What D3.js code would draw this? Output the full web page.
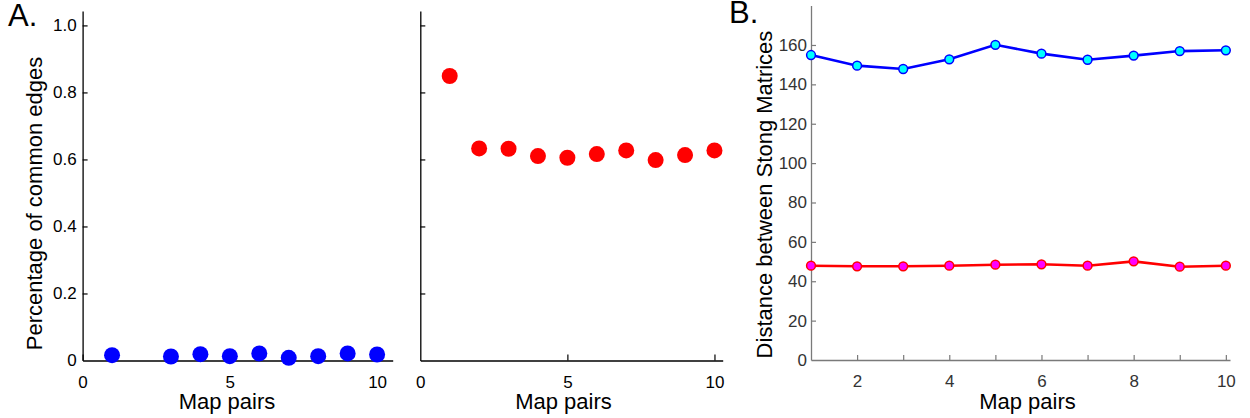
<!DOCTYPE html>
<html>
<head>
<meta charset="utf-8">
<script src="https://cdn.jsdelivr.net/npm/d3@7"></script>
<style>
  html, body { margin: 0; padding: 0; background: #fff; }
  svg { display: block; font-family: "Liberation Sans", Arial, sans-serif; }
</style>
</head>
<body>
<svg id="chart" width="1250" height="418"></svg>
<script>
// ---------------- data ----------------
const pairs = [1, 2, 3, 4, 5, 6, 7, 8, 9, 10];
const commonEdgesBlue = [0.016, null, 0.012, 0.019, 0.013, 0.021, 0.008, 0.013, 0.021, 0.018];
const commonEdgesRed  = [0.849, 0.633, 0.632, 0.610, 0.605, 0.616, 0.627, 0.598, 0.613, 0.627];
const distanceBlue = [154.9, 149.5, 147.8, 152.7, 160.1, 155.6, 152.5, 154.6, 156.9, 157.3];
const distanceRed  = [47.9, 47.6, 47.6, 47.9, 48.4, 48.6, 47.9, 50.1, 47.4, 47.9];

const yTicksA = [0, 0.2, 0.4, 0.6, 0.8, 1.0];
const yTickLabelsA = ["0", "0.2", "0.4", "0.6", "0.8", "1.0"];
const xTicksA = [0, 5, 10];
const xTickLabelsA = ["0", "5", "10"];
const yTicksB = [0, 20, 40, 60, 80, 100, 120, 140, 160];
const xTicksB = [1, 2, 3, 4, 5, 6, 7, 8, 9, 10];
const xTickLabelsB = ["", "2", "", "4", "", "6", "", "8", "", "10"];

const xLabel = "Map pairs";
const yLabelA = "Percentage of common edges";
const yLabelB = "Distance between Stong Matrices";

// ---------------- layout ----------------
const svg = d3.select("#chart");
const FONT_TICK = 17, FONT_LABEL = 22;

function styleAxis(g, lineColor, textColor) {
  g.selectAll("path.domain").attr("stroke", lineColor).attr("stroke-width", 1.3);
  g.selectAll(".tick line").attr("stroke", lineColor).attr("stroke-width", 1.2);
  g.selectAll(".tick text").attr("fill", textColor)
    .style("font-size", FONT_TICK + "px")
    .style("font-family", '"Liberation Sans", Arial, sans-serif');
}

// ---- Panel A left ----
const xA1 = d3.scaleLinear().domain([0, 10.53]).range([82.6, 392.7]);
const yA1 = d3.scaleLinear().domain([0, 1.043]).range([360.5, 11]);
// ---- Panel A right ----
const xA2 = d3.scaleLinear().domain([0, 10.28]).range([420.3, 722.7]);
const yA2 = d3.scaleLinear().domain([0, 1.043]).range([360.5, 11]);
// ---- Panel B ----
const xB = d3.scaleLinear().domain([1, 10.09]).range([811, 1230]);
const yB = d3.scaleLinear().domain([0, 180]).range([360, 5.6]);

// Axes panel A left
const gA1x = svg.append("g").attr("transform", `translate(0,${yA1(0)})`)
  .call(d3.axisBottom(xA1).tickValues(xTicksA).tickFormat((d, i) => xTickLabelsA[i])
    .tickSizeInner(-6).tickSizeOuter(0).tickPadding(15));
styleAxis(gA1x, "#000", "#000");
const gA1y = svg.append("g").attr("transform", `translate(${xA1(0)},0)`)
  .call(d3.axisLeft(yA1).tickValues(yTicksA).tickFormat((d, i) => yTickLabelsA[i])
    .tickSizeInner(-5).tickSizeOuter(0).tickPadding(6));
styleAxis(gA1y, "#000", "#000");
gA1y.selectAll(".tick").filter(d => d === 0).select("line").remove();

// Axes panel A right (no y tick labels)
const gA2x = svg.append("g").attr("transform", `translate(0,${yA2(0)})`)
  .call(d3.axisBottom(xA2).tickValues(xTicksA).tickFormat((d, i) => xTickLabelsA[i])
    .tickSizeInner(-6).tickSizeOuter(0).tickPadding(15));
styleAxis(gA2x, "#000", "#000");
gA2x.selectAll(".tick").filter(d => d === 0).select("line").remove();
const gA2y = svg.append("g").attr("transform", `translate(${xA2(0)},0)`)
  .call(d3.axisLeft(yA2).tickValues(yTicksA).tickFormat(() => "")
    .tickSizeInner(-5).tickSizeOuter(0).tickPadding(6));
styleAxis(gA2y, "#000", "#000");
gA2y.selectAll(".tick").filter(d => d === 0).select("line").remove();

// Axes panel B
const gBx = svg.append("g").attr("transform", `translate(0,${yB(0)})`)
  .call(d3.axisBottom(xB).tickValues(xTicksB).tickFormat((d, i) => xTickLabelsB[i])
    .tickSizeInner(-5).tickSizeOuter(0).tickPadding(15));
styleAxis(gBx, "#7a7a7a", "#333");
gBx.selectAll(".tick").filter(d => d === 1).select("line").remove();
const gBy = svg.append("g").attr("transform", `translate(${xB(1)},0)`)
  .call(d3.axisLeft(yB).tickValues(yTicksB).tickFormat(d3.format("d"))
    .tickSizeInner(-5).tickSizeOuter(0).tickPadding(4));
styleAxis(gBy, "#7a7a7a", "#333");
gBy.selectAll(".tick").filter(d => d === 0).select("line").remove();

// ---------------- marks ----------------
const blueData = pairs.map((p, i) => ({ x: p, y: commonEdgesBlue[i] })).filter(d => d.y !== null);
svg.append("g").selectAll("circle").data(blueData).join("circle")
  .attr("cx", d => xA1(d.x)).attr("cy", d => yA1(d.y)).attr("r", 8)
  .attr("fill", "#0000ff");

const redData = pairs.map((p, i) => ({ x: p, y: commonEdgesRed[i] }));
svg.append("g").selectAll("circle").data(redData).join("circle")
  .attr("cx", d => xA2(d.x)).attr("cy", d => yA2(d.y)).attr("r", 8)
  .attr("fill", "#ff0000");

const line = d3.line().x(d => xB(d.x)).y(d => yB(d.y));
const distB = pairs.map((p, i) => ({ x: p, y: distanceBlue[i] }));
const distR = pairs.map((p, i) => ({ x: p, y: distanceRed[i] }));

svg.append("path").datum(distB).attr("d", line)
  .attr("fill", "none").attr("stroke", "#0000ff").attr("stroke-width", 2.6);
svg.append("g").selectAll("circle").data(distB).join("circle")
  .attr("cx", d => xB(d.x)).attr("cy", d => yB(d.y)).attr("r", 4.4)
  .attr("fill", "#00ffff").attr("stroke", "#0000ff").attr("stroke-width", 1.5);

svg.append("path").datum(distR).attr("d", line)
  .attr("fill", "none").attr("stroke", "#ff0000").attr("stroke-width", 2.6);
svg.append("g").selectAll("circle").data(distR).join("circle")
  .attr("cx", d => xB(d.x)).attr("cy", d => yB(d.y)).attr("r", 4.4)
  .attr("fill", "#ff00ff").attr("stroke", "#ff0000").attr("stroke-width", 1.5);

// ---------------- labels ----------------
function addText(x, y, txt, size, anchor, rotate) {
  const t = svg.append("text").attr("x", x).attr("y", y)
    .attr("text-anchor", anchor).attr("fill", "#000")
    .style("font-size", size + "px").text(txt);
  if (rotate) t.attr("transform", `rotate(-90,${x},${y})`);
  return t;
}
addText(227, 409, xLabel, FONT_LABEL, "middle");
addText(563.5, 409, xLabel, FONT_LABEL, "middle");
addText(1027.5, 409, xLabel, FONT_LABEL, "middle");
addText(42, 203.5, yLabelA, FONT_LABEL, "middle", true);
addText(772, 194.5, yLabelB, FONT_LABEL, "middle", true);
addText(8, 26, "A.", 31, "start");
addText(729, 23, "B.", 31, "start");
</script>
</body>
</html>
